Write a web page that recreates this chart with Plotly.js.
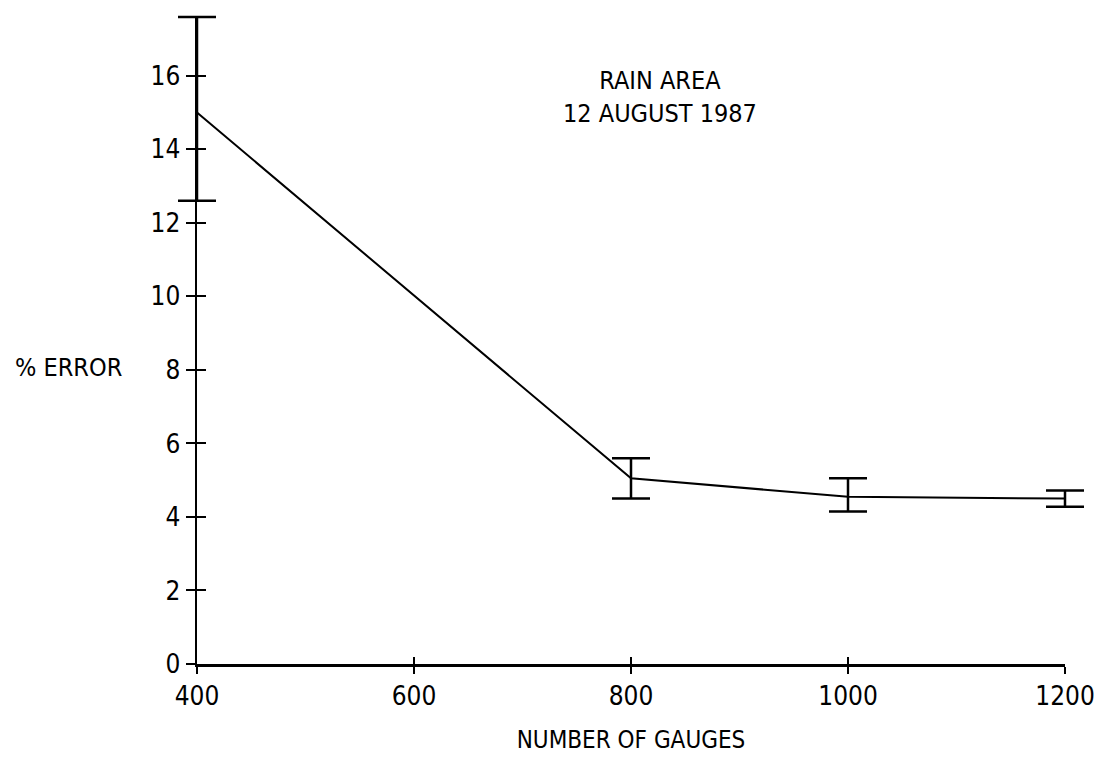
<!DOCTYPE html>
<html>
<head>
<meta charset="utf-8">
<script src="https://cdn.plot.ly/plotly-3.0.1.min.js"></script>
<style>html,body{margin:0;padding:0;background:#fff;}#chart{width:1111px;height:759px;}</style>
</head>
<body>
<div id="chart"></div>
<script>
const gauges = [400, 800, 1000, 1200];
const pctError = [15.0, 5.05, 4.55, 4.5];
const errPlus = [2.6, 0.55, 0.5, 0.22];
const errMinus = [2.4, 0.55, 0.4, 0.22];
const xTicks = [400, 600, 800, 1000, 1200];
const yTicks = [0, 2, 4, 6, 8, 10, 12, 14, 16];
const xRange = [400, 1200];
const yRange = [0, 17.6];

const FONT = '"Liberation Sans Narrow", "DejaVu Sans Condensed", Arial, sans-serif';

// layout geometry (pixels)
const W = 1111, H = 759;
const M = {l: 150, r: 20, t: 5, b: 95};
const axL = 197, axR = 1065, axT = 17, axB = 664;
const pw = W - M.l - M.r, ph = H - M.t - M.b;
const xDom = [(axL - M.l) / pw, (axR - M.l) / pw];
const yDom = [(H - M.b - axB) / ph, (H - M.b - axT) / ph];
// wider hidden axes for the data so error-bar caps are not clipped
const xs = (xRange[1] - xRange[0]) / (axR - axL);
const ys = (yRange[1] - yRange[0]) / (axB - axT);
const xWide = [xRange[0] - (axL - M.l) * xs, xRange[1] + (W - M.r - axR) * xs];
const yWide = [yRange[0] - (H - M.b - axB) * ys, yRange[1] + (axT - M.t) * ys];

const dataTrace = {
  x: gauges, y: pctError, type: 'scatter', mode: 'lines',
  xaxis: 'x3', yaxis: 'y3',
  line: {color: '#000', width: 2},
  error_y: {type: 'data', symmetric: false, array: errPlus, arrayminus: errMinus,
            color: '#000', thickness: 2.5, width: 19, visible: true},
  showlegend: false, hoverinfo: 'x+y'
};
const axisTrace = {x: [null], y: [null], type: 'scatter', mode: 'lines', xaxis: 'x', yaxis: 'y', showlegend: false, hoverinfo: 'skip'};
const tickTrace = {x: [null], y: [null], type: 'scatter', mode: 'lines', xaxis: 'x2', yaxis: 'y2', showlegend: false, hoverinfo: 'skip'};

const common = {showgrid: false, zeroline: false, fixedrange: true};

const layout = {
  width: W, height: H,
  paper_bgcolor: '#fff', plot_bgcolor: 'rgba(0,0,0,0)',
  margin: M,
  font: {family: FONT, size: 26, color: '#000'},
  showlegend: false,
  xaxis: Object.assign({}, common, {
    domain: xDom, anchor: 'y', range: xRange, tickvals: xTicks, ticktext: xTicks.map(String),
    showline: true, linecolor: '#000', linewidth: 2.5,
    ticks: 'outside', ticklen: 7, tickwidth: 1.5, tickcolor: '#000',
    tickfont: {family: FONT, size: 26, color: '#000'},
    title: {text: 'NUMBER OF GAUGES', font: {family: FONT, size: 24, color: '#000'}, standoff: 22}
  }),
  yaxis: Object.assign({}, common, {
    domain: yDom, anchor: 'x', range: yRange, tickvals: yTicks, ticktext: yTicks.map(String),
    showline: true, linecolor: '#000', linewidth: 2.5,
    ticks: 'outside', ticklen: 9, tickwidth: 2, tickcolor: '#000',
    tickfont: {family: FONT, size: 26, color: '#000'}
  }),
  xaxis2: Object.assign({}, common, {
    overlaying: 'x', anchor: 'y2', range: xRange, tickvals: xTicks,
    showticklabels: false, showline: false,
    ticks: 'inside', ticklen: 7, tickwidth: 1.5, tickcolor: '#000'
  }),
  yaxis2: Object.assign({}, common, {
    overlaying: 'y', anchor: 'x2', side: 'left', range: yRange, tickvals: yTicks,
    showticklabels: false, showline: false,
    ticks: 'inside', ticklen: 9, tickwidth: 2, tickcolor: '#000'
  }),
  xaxis3: Object.assign({}, common, {domain: [0, 1], anchor: 'y3', range: xWide, visible: false}),
  yaxis3: Object.assign({}, common, {domain: [0, 1], anchor: 'x3', range: yWide, visible: false}),
  annotations: [
    {text: 'RAIN AREA<br>12 AUGUST 1987', xref: 'paper', yref: 'paper',
     x: (660 - M.l) / pw, y: (H - M.b - 97) / ph, xanchor: 'center', yanchor: 'middle',
     showarrow: false, align: 'center', font: {family: FONT, size: 25, color: '#000'}},
    {text: '% ERROR', xref: 'paper', yref: 'paper',
     x: (13 - M.l) / pw, y: (H - M.b - 367) / ph, xanchor: 'left', yanchor: 'middle',
     showarrow: false, font: {family: FONT, size: 25, color: '#000'}}
  ]
};

Plotly.newPlot('chart', [axisTrace, tickTrace, dataTrace], layout, {displayModeBar: false, staticPlot: true});
</script>
</body>
</html>
